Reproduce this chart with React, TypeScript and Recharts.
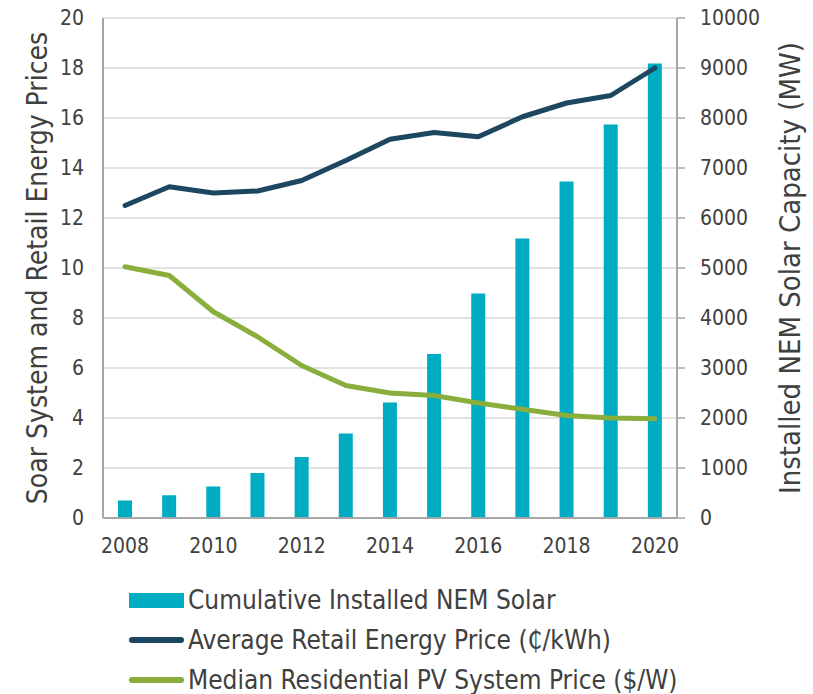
import React from "react";
import {
  Bar,
  CartesianGrid,
  ComposedChart,
  Line,
  XAxis,
  YAxis,
} from "recharts";

const years = [
  "2008", "2009", "2010", "2011", "2012", "2013", "2014",
  "2015", "2016", "2017", "2018", "2019", "2020",
];
const nemSolarMW = [350, 455, 630, 900, 1220, 1690, 2310, 3280, 4490, 5590, 6730, 7870, 9090];
const retailPrice = [12.5, 13.25, 13.0, 13.08, 13.5, 14.3, 15.15, 15.42, 15.25, 16.05, 16.6, 16.9, 18.0];
const pvPrice = [10.05, 9.7, 8.25, 7.25, 6.1, 5.3, 5.0, 4.9, 4.6, 4.35, 4.1, 4.0, 3.97];
const leftTicks = [0, 2, 4, 6, 8, 10, 12, 14, 16, 18, 20];
const rightTicks = [0, 1000, 2000, 3000, 4000, 5000, 6000, 7000, 8000, 9000, 10000];

const data = years.map((year, i) => ({
  year,
  solar: nemSolarMW[i],
  retail: retailPrice[i],
  pv: pvPrice[i],
}));

const FONT = "'DejaVu Sans Condensed', 'DejaVu Sans', sans-serif";
const TEXT = "#404040";
const AXIS = "#a6a6a6";
const BAR = "#00acc1";
const NAVY = "#1d4660";
const GREEN = "#8aae3b";

const legendItems = [
  { label: "Cumulative Installed NEM Solar", color: BAR, kind: "bar" },
  { label: "Average Retail Energy Price (\u20B5/kWh)", color: NAVY, kind: "line" },
  { label: "Median Residential PV System Price ($/W)", color: GREEN, kind: "line" },
];

export default function App() {
  return (
    <div style={{ position: "absolute", left: 0, top: 0, width: 813, height: 694, background: "#fff", fontFamily: FONT, overflow: "hidden" }}>
      <ComposedChart width={813} height={560} data={data} margin={{ top: 18, right: 0, bottom: 0, left: 0 }}>
        <CartesianGrid yAxisId="left" vertical={false} stroke="#d9d9d9" strokeWidth={1.5} />
        <XAxis
          dataKey="year"
          interval={1}
          height={42}
          tickLine={false}
          axisLine={{ stroke: AXIS, strokeWidth: 2 }}
          tick={{ fill: TEXT, fontSize: 21, fontFamily: FONT }}
          tickMargin={14}
        />
        <YAxis
          yAxisId="left"
          domain={[0, 20]}
          ticks={leftTicks}
          width={103}
          tickLine={false}
          axisLine={{ stroke: AXIS, strokeWidth: 2 }}
          tick={{ fill: TEXT, fontSize: 21, fontFamily: FONT }}
          tickMargin={13}
          label={{
            value: "Soar System and Retail Energy Prices",
            angle: -90,
            position: "insideLeft",
            offset: 37,
            style: { textAnchor: "middle", fill: TEXT, fontSize: 28, fontFamily: FONT },
          }}
        />
        <YAxis
          yAxisId="right"
          orientation="right"
          domain={[0, 10000]}
          ticks={rightTicks}
          width={136}
          tickSize={8}
          tickLine={{ stroke: AXIS, strokeWidth: 1.5 }}
          axisLine={{ stroke: AXIS, strokeWidth: 2 }}
          tick={{ fill: TEXT, fontSize: 21, fontFamily: FONT }}
          tickMargin={15}
          label={{
            value: "Installed NEM Solar Capacity (MW)",
            angle: -90,
            position: "insideRight",
            offset: 23,
            style: { textAnchor: "middle", fill: TEXT, fontSize: 29, fontFamily: FONT },
          }}
        />
        <Bar yAxisId="right" dataKey="solar" fill={BAR} barSize={14} isAnimationActive={false} />
        <Line
          yAxisId="left"
          dataKey="retail"
          stroke={NAVY}
          strokeWidth={5}
          strokeLinecap="round"
          strokeLinejoin="round"
          dot={false}
          type="linear"
          isAnimationActive={false}
        />
        <Line
          yAxisId="left"
          dataKey="pv"
          stroke={GREEN}
          strokeWidth={5}
          strokeLinecap="round"
          strokeLinejoin="round"
          dot={false}
          type="linear"
          isAnimationActive={false}
        />
      </ComposedChart>
      <div style={{ position: "absolute", left: 129, top: 580 }}>
        {legendItems.map((item) => (
          <div key={item.label} style={{ display: "flex", alignItems: "center", height: 40, color: TEXT, fontSize: 26, whiteSpace: "nowrap" }}>
            {item.kind === "bar" ? (
              <div style={{ width: 55, height: 15, background: item.color, marginRight: 4 }} />
            ) : (
              <div style={{ width: 55, height: 6, borderRadius: 3, background: item.color, marginRight: 4 }} />
            )}
            <span>{item.label}</span>
          </div>
        ))}
      </div>
    </div>
  );
}
